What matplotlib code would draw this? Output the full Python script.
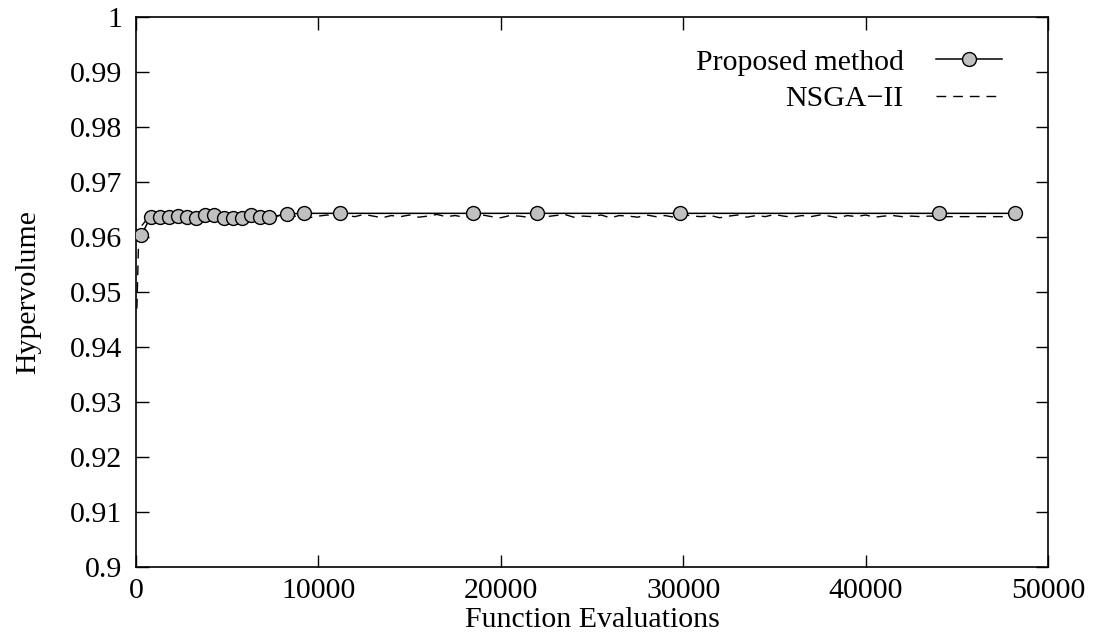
import numpy as np
import matplotlib.pyplot as plt

plt.rcParams['font.family'] = ['Liberation Serif', 'DejaVu Serif']
plt.rcParams['font.size'] = 21.5

# Proposed method: hypervolume at each sampled evaluation count
proposed_evals = [300, 800, 1300, 1800, 2300, 2800, 3300, 3800, 4300, 4800,
                  5300, 5800, 6300, 6800, 7300, 8300, 9200, 11200, 18500,
                  22000, 29800, 44000, 48200]
proposed_hv = [0.9603, 0.9637, 0.9637, 0.9637, 0.9639, 0.9637, 0.9635, 0.9640,
               0.9640, 0.9634, 0.9634, 0.9635, 0.9640, 0.9637, 0.9636, 0.9642,
               0.9643, 0.9643, 0.9643, 0.9643, 0.9643, 0.9643, 0.9643]

# NSGA-II: recorded every 500 evaluations after the start-up phase
nsga_evals = [50, 150, 300, 600] + list(range(1000, 44001, 500)) + [48200]
nsga_hv = [0.9470, 0.9600, 0.9620, 0.9632,
           0.9636, 0.9638, 0.9635, 0.9639, 0.9637, 0.9640, 0.9636, 0.9638, 0.9641, 0.9637,
           0.9635, 0.9639, 0.9638, 0.9636, 0.9640, 0.9637, 0.9639, 0.9635, 0.9638, 0.9640,
           0.9636, 0.9639, 0.9637, 0.9641, 0.9638, 0.9635, 0.9639, 0.9637, 0.9640, 0.9636,
           0.9638, 0.9641, 0.9637, 0.9639, 0.9636, 0.9638, 0.9640, 0.9637, 0.9635, 0.9639,
           0.9638, 0.9636, 0.9640, 0.9637, 0.9639, 0.9641, 0.9636, 0.9638, 0.9637, 0.9640,
           0.9635, 0.9639, 0.9638, 0.9636, 0.9640, 0.9637, 0.9639, 0.9636, 0.9641, 0.9638,
           0.9637, 0.9639, 0.9635, 0.9638, 0.9640, 0.9636, 0.9639, 0.9637, 0.9641, 0.9638,
           0.9636, 0.9639, 0.9637, 0.9640, 0.9638, 0.9635, 0.9639, 0.9637, 0.9640, 0.9636,
           0.9638, 0.9639, 0.9637, 0.9638, 0.9637, 0.9638, 0.9637,
           0.9637]

xticks = [0, 10000, 20000, 30000, 40000, 50000]
yticks = [0.9, 0.91, 0.92, 0.93, 0.94, 0.95, 0.96, 0.97, 0.98, 0.99, 1.0]
ytick_labels = ['0.9', '0.91', '0.92', '0.93', '0.94', '0.95', '0.96', '0.97', '0.98', '0.99', '1']

fig = plt.figure(figsize=(10.93, 6.39), dpi=100)
ax = fig.add_axes([0.1244, 0.1127, 0.8344, 0.8607])

ax.plot(proposed_evals, proposed_hv, color='black', lw=1.1, marker='o',
        markersize=10, markerfacecolor='#c0c0c0', markeredgecolor='black',
        markeredgewidth=1.0, label='Proposed method', zorder=3)
ax.plot(nsga_evals, nsga_hv, color='black', lw=1.0, dashes=(7, 5),
        label='NSGA\u2212II', zorder=2)

ax.set_xlim(0, 50000)
ax.set_ylim(0.9, 1.0)
ax.set_xticks(xticks)
ax.set_xticklabels([str(t) for t in xticks])
ax.set_yticks(yticks)
ax.set_yticklabels(ytick_labels)
ax.tick_params(direction='in', length=9, width=1.0, top=True, right=True)
ax.tick_params(axis='y', pad=10)
ax.tick_params(axis='x', pad=8)
for sp in ax.spines.values():
    sp.set_linewidth(1.2)

ax.set_xlabel('Function Evaluations', va='center')
ax.xaxis.set_label_coords(0.5, -0.096)
ax.set_ylabel('Hypervolume', va='center')
ax.yaxis.set_label_coords(-0.118, 0.5)

ax.legend(loc='upper right', frameon=False, markerfirst=False,
          handlelength=2.2, handletextpad=1.1, labelspacing=0.33,
          borderaxespad=0.5, bbox_to_anchor=(0.979, 0.991))

fig.savefig('out.png', dpi=100)
